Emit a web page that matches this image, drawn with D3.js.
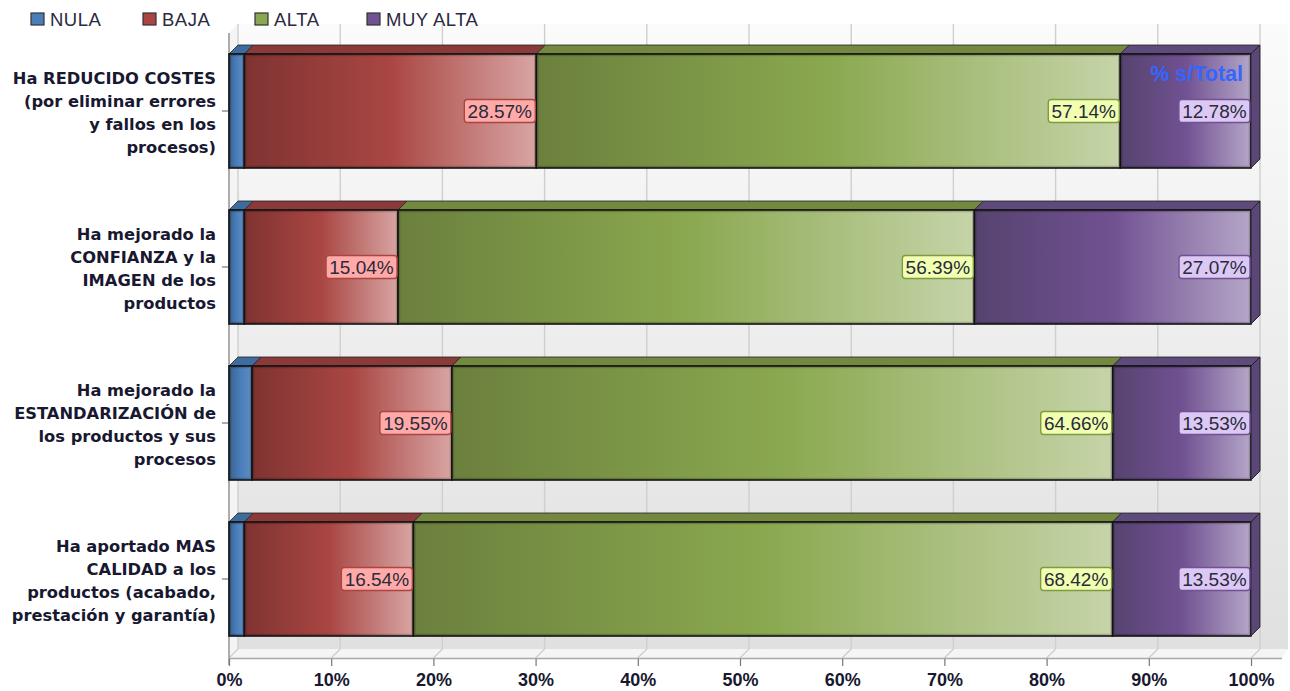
<!DOCTYPE html>
<html><head><meta charset="utf-8">
<script src="https://cdn.jsdelivr.net/npm/d3@7"></script>
<style>html,body{margin:0;padding:0;background:#fff}svg{display:block}text{font-family:"Liberation Sans",Arial,sans-serif}</style>
</head><body><svg id="c" width="1290" height="691"></svg>
<script>
const categories = [
  ["Ha REDUCIDO COSTES","(por eliminar errores","y fallos en los","procesos)"],
  ["Ha mejorado la","CONFIANZA y la","IMAGEN de los","productos"],
  ["Ha mejorado la","ESTANDARIZACIÓN de","los productos y sus","procesos"],
  ["Ha aportado MAS","CALIDAD a los","productos (acabado,","prestación y garantía)"]
];
const seriesNames = ["NULA","BAJA","ALTA","MUY ALTA"];
const nula    = [1.50, 1.50, 2.26, 1.50];
const baja    = [28.57, 15.04, 19.55, 16.54];
const alta    = [57.14, 56.39, 64.66, 68.42];
const muyAlta = [12.78, 27.07, 13.53, 13.53];
const seriesValues = [nula, baja, alta, muyAlta];
const ticks = [0,10,20,30,40,50,60,70,80,90,100];
const baseColors = ["#4a7ebb","#a94643","#8aa84f","#705191"];
const darkColors = ["#3a628f","#7f3331","#6b803d","#56436f"];
const lightColors= ["#5f8dc0","#d8a5a3","#c6d4a9","#b5a6c8"];
const topColors  = ["#3f6c9f","#8a3a38","#74893f","#5f4a7c"];
const labelFills = ["#c5dcff","#ffaaa8","#f0ffb0","#dcc8f5"];
const labelStroke= ["#3a628f","#a94643","#7f9a45","#705191"];

const svg = d3.select("#c");
const x = d3.scaleLinear().domain([0,100]).range([229,1251]);
const y = d3.scaleBand().domain(d3.range(categories.length)).range([33,657]).paddingInner(42/156).paddingOuter(21/156);
const depth = 9;
const floorEnd = 1288;
const defs = svg.append("defs");
const wallG = defs.append("linearGradient").attr("id","wall").attr("x1",0).attr("x2",0).attr("y1",0).attr("y2",1);
wallG.append("stop").attr("offset","0").attr("stop-color","#fbfbfb");
wallG.append("stop").attr("offset","1").attr("stop-color","#e0e0e0");
seriesNames.forEach((s,i)=>{
  const g = defs.append("linearGradient").attr("id","g"+i).attr("x1",0).attr("x2",1).attr("y1",0).attr("y2",0);
  g.append("stop").attr("offset","0").attr("stop-color",darkColors[i]);
  g.append("stop").attr("offset","0.5").attr("stop-color",baseColors[i]);
  g.append("stop").attr("offset","1").attr("stop-color",lightColors[i]);
});

// plot background
svg.append("rect").attr("x",x(0)+depth).attr("y",24).attr("width",floorEnd-x(0)-depth).attr("height",626).attr("fill","url(#wall)");
// side wall and floor
const side = svg.append("g");
side.append("path").attr("d",`M${x(0)},33L${x(0)+depth},24V649L${x(0)},658Z`).attr("fill","#f4f4f4");
side.append("path").attr("d",`M${x(0)},658L${x(0)+depth},649H${floorEnd}L${floorEnd-6},658Z`).attr("fill","#f5f5f5");
// grid
const grid = svg.append("g");
ticks.forEach(t=>{
  const px = x(t);
  grid.append("path").attr("d",`M${px+depth},24V649L${px},658`).attr("fill","none").attr("stroke","#cfcfcf").attr("stroke-width",1.4);
});
// axes
svg.append("line").attr("x1",x(0)).attr("x2",x(0)).attr("y1",33).attr("y2",665).attr("stroke","#8c8c8c").attr("stroke-width",1.4);
svg.append("line").attr("x1",x(0)).attr("x2",floorEnd-6).attr("y1",658.5).attr("y2",658.5).attr("stroke","#a8a8a8").attr("stroke-width",1.4);
const xAxis = d3.axisBottom(x).tickValues(ticks).tickFormat(d=>d+"%").tickSize(7).tickPadding(7);
const ax = svg.append("g").attr("transform","translate(0,659)").call(xAxis);
ax.select(".domain").remove();
ax.selectAll("line").attr("stroke","#777").attr("stroke-width",1.2);
ax.selectAll("text").attr("font-size",18).attr("font-weight","bold").attr("fill","#181830");
const yTicks = svg.append("g");
categories.forEach((c,i)=>{
  const cy = y(i)+y.bandwidth()/2;
  yTicks.append("line").attr("x1",x(0)-7).attr("x2",x(0)).attr("y1",cy).attr("y2",cy).attr("stroke","#777").attr("stroke-width",1.2);
  const t = yTicks.append("text").attr("text-anchor","end").attr("font-size",16.3).attr("font-weight","bold").attr("fill","#181830").style("font-family","'DejaVu Sans'");
  c.forEach((ln,j)=>t.append("tspan").attr("x",216).attr("y",cy+(j-(c.length-1)/2)*23+7).text(ln));
});

// bars
const bars = svg.append("g");
const labels = svg.append("g");
categories.forEach((c,i)=>{
  let acc = 0;
  const by = y(i), bh = y.bandwidth();
  seriesValues.forEach((vals,s)=>{
    const v = vals[i];
    const a = x(acc), b = x(acc+v);
    acc += v;
    bars.append("path").attr("d",`M${a},${by}L${a+depth},${by-depth}H${b+depth}L${b},${by}Z`).attr("fill",topColors[s]).attr("stroke","#222").attr("stroke-width",.8);
    bars.append("rect").attr("x",a).attr("y",by).attr("width",b-a).attr("height",bh).attr("fill",`url(#g${s})`);
    bars.append("rect").attr("x",a+1.5).attr("y",by+1.5).attr("width",b-a-3).attr("height",bh-3).attr("fill","none").attr("stroke","#000").attr("stroke-opacity",.18).attr("stroke-width",1.5);
    bars.append("rect").attr("x",a).attr("y",by).attr("width",b-a).attr("height",bh).attr("fill","none").attr("stroke","#111").attr("stroke-width",1.6);
    if (s===seriesValues.length-1){
      bars.append("path").attr("d",`M${b},${by}L${b+depth},${by-depth}V${by+bh-depth}L${b},${by+bh}Z`).attr("fill","#5b4678").attr("stroke","#222").attr("stroke-width",1);
    }
    if (v>=5){
      const w = 71, h = 23, lx = b-w-1, ly = by+bh/2-h/2;
      labels.append("rect").attr("x",lx).attr("y",ly).attr("width",w).attr("height",h).attr("rx",3).attr("fill",labelFills[s]).attr("stroke",labelStroke[s]).attr("stroke-width",1.4);
      labels.append("text").attr("x",lx+w/2).attr("y",ly+h/2+6.5).attr("text-anchor","middle").attr("font-size",19).attr("fill","#2a2a3a").text(v.toFixed(2)+"%");
    }
  });
});
// overlay title
svg.append("text").attr("x",1243).attr("y",81).attr("text-anchor","end").attr("font-size",21.5).attr("font-weight","bold").attr("fill","#3366ff").text("% s/Total");

// legend
const legendX = d3.scalePoint().domain(seriesNames).range([31,367]);
const leg = svg.append("g");
seriesNames.forEach((s,i)=>{
  const lx = legendX(s);
  leg.append("rect").attr("x",lx).attr("y",13).attr("width",13).attr("height",12).attr("fill",baseColors[i]).attr("stroke","#333").attr("stroke-width",1.2);
  leg.append("text").attr("x",lx+19).attr("y",26).attr("font-size",18.5).attr("letter-spacing",.5).attr("fill","#2a2a40").text(s);
});
</script></body></html>
